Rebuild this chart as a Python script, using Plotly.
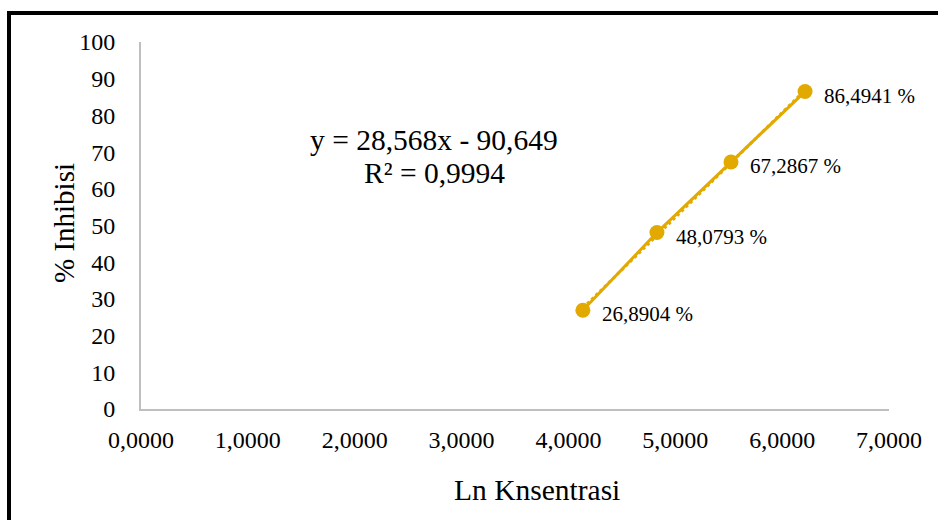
import plotly.graph_objects as go

# Data: ln(concentration) vs % inhibition
ln_konsentrasi = [4.1352, 4.8283, 5.5215, 6.2146]
inhibisi = [26.8904, 48.0793, 67.2867, 86.4941]

# Linear trendline coefficients and fit quality
slope = 28.568
intercept = -90.649
r_squared = 0.9994

x_ticks = [0, 1, 2, 3, 4, 5, 6, 7]
y_ticks = [0, 10, 20, 30, 40, 50, 60, 70, 80, 90, 100]

W, H = 938, 520
L, R, T, B = 141, 49, 42, 111
PW, PH = W - L - R, H - T - B


def px_x(px):
    return (px - L) / PW


def px_y(py):
    return (H - B - py) / PH


GOLD = "#E2AA00"
FONT = "Liberation Serif, Times New Roman, serif"

fig = go.Figure()

# Trendline (dotted)
tx = [min(ln_konsentrasi), max(ln_konsentrasi)]
ty = [slope * v + intercept for v in tx]
fig.add_trace(go.Scatter(
    x=tx, y=ty, mode="lines",
    line=dict(color=GOLD, width=3, dash="dot"),
    hoverinfo="skip", showlegend=False,
))

# Measured points
fig.add_trace(go.Scatter(
    x=ln_konsentrasi, y=inhibisi, mode="lines+markers",
    line=dict(color=GOLD, width=3),
    marker=dict(color=GOLD, size=15),
    showlegend=False,
))

annotations = []
for xv, yv in zip(ln_konsentrasi, inhibisi):
    annotations.append(dict(
        x=xv, y=yv, xref="x", yref="y",
        text=f"{yv:.4f}".replace(".", ",") + " %",
        showarrow=False, xanchor="left", yanchor="middle",
        xshift=17, yshift=-4,
        font=dict(family=FONT, size=21, color="black"),
    ))

eq_text = f"y = {slope:.3f}x - {abs(intercept):.3f}".replace(".", ",")
r2_text = f"R² = {r_squared:.4f}".replace(".", ",")
annotations.append(dict(
    x=px_x(434), y=px_y(140), xref="paper", yref="paper",
    text=eq_text, showarrow=False, xanchor="center", yanchor="middle",
    font=dict(family=FONT, size=29.5, color="black"),
))
annotations.append(dict(
    x=px_x(434), y=px_y(173), xref="paper", yref="paper",
    text=r2_text, showarrow=False, xanchor="center", yanchor="middle",
    font=dict(family=FONT, size=29.5, color="black"),
))

# Axis titles
annotations.append(dict(
    x=px_x(537), y=px_y(490), xref="paper", yref="paper",
    text="Ln Knsentrasi", showarrow=False, xanchor="center", yanchor="middle",
    font=dict(family=FONT, size=29.5, color="black"),
))
annotations.append(dict(
    x=px_x(64), y=px_y(223), xref="paper", yref="paper",
    text="% Inhibisi", showarrow=False, xanchor="center", yanchor="middle",
    textangle=-90,
    font=dict(family=FONT, size=29, color="black"),
))

# Outer frame (left and top edges)
shapes = [
    dict(type="line", xref="paper", yref="paper",
         x0=px_x(9), x1=px_x(9), y0=px_y(11), y1=px_y(530),
         line=dict(color="black", width=4)),
    dict(type="line", xref="paper", yref="paper",
         x0=px_x(7), x1=px_x(945), y0=px_y(13), y1=px_y(13),
         line=dict(color="black", width=4)),
]

fig.update_layout(
    width=W, height=H,
    margin=dict(l=L, r=R, t=T, b=B),
    paper_bgcolor="white", plot_bgcolor="white",
    separators=",.",
    font=dict(family=FONT, size=24, color="black"),
    annotations=annotations,
    shapes=shapes,
    xaxis=dict(
        range=[0, 7], tickvals=x_ticks, tickformat=".4f",
        showgrid=False, zeroline=False,
        showline=True, linecolor="#BFBFBF", linewidth=2,
        ticks="", ticklabelstandoff=8,
        tickfont=dict(family=FONT, size=24, color="black"),
    ),
    yaxis=dict(
        range=[0, 100], tickvals=y_ticks,
        showgrid=False, zeroline=False,
        showline=True, linecolor="#BFBFBF", linewidth=2,
        ticks="", ticklabelstandoff=19,
        tickfont=dict(family=FONT, size=24, color="black"),
    ),
)

fig.write_html("out.html")
